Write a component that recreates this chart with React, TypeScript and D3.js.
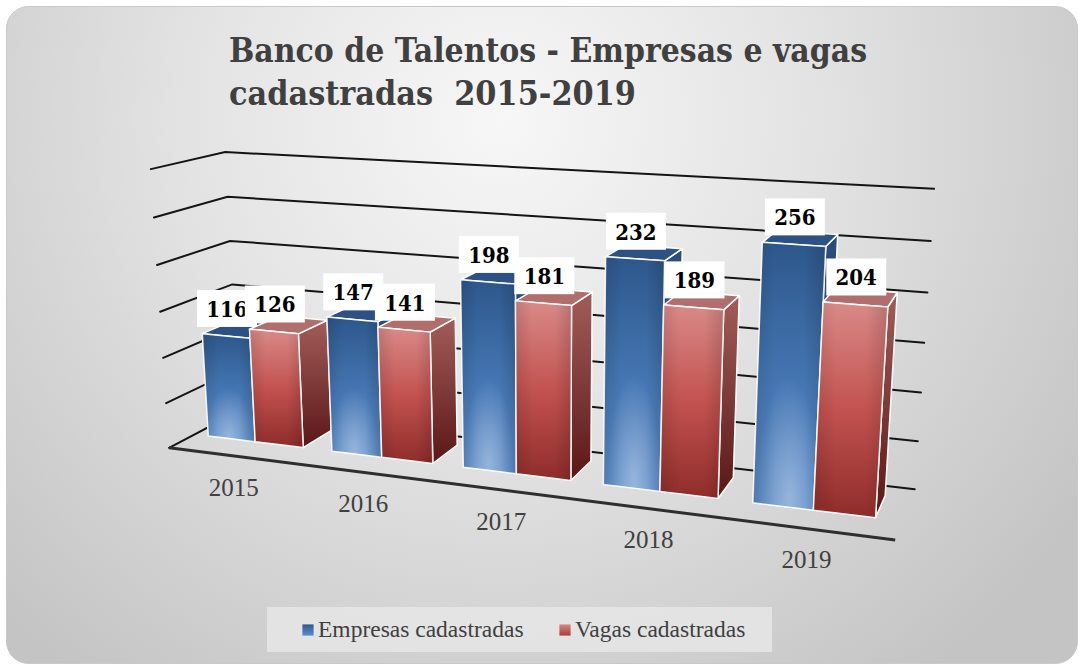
import React from 'react';
import * as d3 from 'd3';

const years = ['2015', '2016', '2017', '2018', '2019'];
const empresas = [116, 147, 198, 232, 256];
const vagas = [126, 141, 181, 189, 204];
const yTicks = [0, 50, 100, 150, 200, 250, 300];
const seriesNames = ['Empresas cadastradas', 'Vagas cadastradas'];

const width = 1079;
const height = 664;

// screen corners of the 3D plot box: [X, Y, Z, px, py], X/Y/Z normalised 0..1, Z=0 front
const frameAnchors: number[][] = [
  [0, 1, 0, 150, 169],
  [0, 0, 0, 170, 447],
  [0, 1, 1, 226, 152],
  [0, 0, 1, 238, 412],
  [1, 1, 1, 934, 189],
  [1, 0, 1, 915, 488],
  [1, 0, 0, 895, 541],
];

const BAR_Z0 = 0.35;
const BAR_Z1 = 0.8;

function solveLinear(M: number[][], b: number[]) {
  const n = b.length;
  const A = M.map((r, i) => [...r, b[i]]);
  for (let c = 0; c < n; c++) {
    let p = c;
    for (let r = c + 1; r < n; r++) if (Math.abs(A[r][c]) > Math.abs(A[p][c])) p = r;
    [A[c], A[p]] = [A[p], A[c]];
    for (let r = 0; r < n; r++) {
      if (r === c) continue;
      const f = A[r][c] / A[c][c];
      for (let k = c; k <= n; k++) A[r][k] -= f * A[c][k];
    }
  }
  return A.map((r, i) => r[n] / r[i]);
}

// least squares perspective camera (DLT) from the box corners
function fitCamera() {
  const rows: number[][] = [];
  const rhs: number[] = [];
  frameAnchors.forEach(([X, Y, Z, u, v]) => {
    rows.push([X, Y, Z, 1, 0, 0, 0, 0, -u * X, -u * Y, -u * Z]);
    rhs.push(u);
    rows.push([0, 0, 0, 0, X, Y, Z, 1, -v * X, -v * Y, -v * Z]);
    rhs.push(v);
  });
  const N = d3.range(11).map(i => d3.range(11).map(j => d3.sum(rows, r => r[i] * r[j])));
  const c = d3.range(11).map(i => d3.sum(rows, (r, k) => r[i] * rhs[k]));
  return solveLinear(N, c);
}

const cam = fitCamera();
const project = (X: number, Y: number, Z: number): [number, number] => {
  const w = cam[8] * X + cam[9] * Y + cam[10] * Z + 1;
  return [
    (cam[0] * X + cam[1] * Y + cam[2] * Z + cam[3]) / w,
    (cam[4] * X + cam[5] * Y + cam[6] * Z + cam[7]) / w,
  ];
};

const x = d3.scaleBand().domain(years).range([0, 0.99]).paddingInner(0.227).paddingOuter(0.1135);
const xs = d3.scaleBand().domain(['0', '1']).range([0, x.bandwidth()]);
const y = d3.scaleLinear().domain([0, 300]).range([0, 1]);

const line = d3.line();
const poly = (pts: [number, number, number][]) => line(pts.map(p => project(p[0], p[1], p[2]))) + 'Z';

const serif = "'Liberation Serif', 'Times New Roman', serif";
const boldSerif = "'DejaVu Serif Condensed', 'DejaVu Serif', serif";

export default function App() {
  const bars = years.flatMap((yr, i) =>
    [empresas[i], vagas[i]].map((v, s) => {
      const x0 = (x(yr) as number) + (xs(String(s)) as number);
      const x1 = x0 + xs.bandwidth();
      const yt = y(v);
      return { yr, s, v, x0, x1, yt };
    })
  );

  return (
    <svg width={width} height={height} style={{ position: 'absolute', left: 0, top: 0 }}>
      <defs>
        <radialGradient id="bg" gradientUnits="userSpaceOnUse" cx={500} cy={120} r={700}>
          <stop offset="0" stopColor="#f7f7f7" />
          <stop offset="0.45" stopColor="#e3e3e3" />
          <stop offset="1" stopColor="#c4c4c4" />
        </radialGradient>
        <linearGradient id="front0" x1="0" y1="0" x2="0" y2="1">
          <stop offset="0" stopColor="#2d578b" />
          <stop offset="0.55" stopColor="#4677b4" />
          <stop offset="1" stopColor="#5f8fcb" />
        </linearGradient>
        <linearGradient id="front1" x1="0" y1="0" x2="0" y2="1">
          <stop offset="0" stopColor="#d98a88" />
          <stop offset="0.5" stopColor="#c2524f" />
          <stop offset="1" stopColor="#8e2c2a" />
        </linearGradient>
        <radialGradient id="glow" cx="0.5" cy="0.95" r="0.45">
          <stop offset="0" stopColor="#ffffff" stopOpacity="0.35" />
          <stop offset="1" stopColor="#ffffff" stopOpacity="0" />
        </radialGradient>
        <linearGradient id="edge" x1="0" y1="0" x2="1" y2="0">
          <stop offset="0" stopColor="#000" stopOpacity="0.12" />
          <stop offset="0.3" stopColor="#000" stopOpacity="0" />
          <stop offset="0.7" stopColor="#000" stopOpacity="0" />
          <stop offset="1" stopColor="#000" stopOpacity="0.15" />
        </linearGradient>
        <linearGradient id="side0" x1="0" y1="0" x2="0" y2="1">
          <stop offset="0" stopColor="#2c4d7d" />
          <stop offset="1" stopColor="#1d3860" />
        </linearGradient>
        <linearGradient id="side1" x1="0" y1="0" x2="0" y2="1">
          <stop offset="0" stopColor="#a25d5b" />
          <stop offset="1" stopColor="#5a1715" />
        </linearGradient>
        <linearGradient id="leg0" x1="0" y1="0" x2="0" y2="1">
          <stop offset="0" stopColor="#2d578b" />
          <stop offset="1" stopColor="#5f8fcb" />
        </linearGradient>
        <linearGradient id="leg1" x1="0" y1="0" x2="0" y2="1">
          <stop offset="0" stopColor="#d98a88" />
          <stop offset="1" stopColor="#a83a38" />
        </linearGradient>
      </defs>

      <rect x={6.5} y={6.5} width={1071} height={657} rx={22} fill="url(#bg)" stroke="#c9c9c9" strokeWidth={1} />

      <text fontFamily={boldSerif} fontWeight="bold" fontStretch="condensed" fontSize={33} fill="#404040" style={{ whiteSpace: 'pre' }}>
        <tspan x={229} y={62} textLength={638} lengthAdjust="spacingAndGlyphs">Banco de Talentos - Empresas e vagas</tspan>
        <tspan x={229} y={105} textLength={407} lengthAdjust="spacingAndGlyphs">cadastradas  2015-2019</tspan>
      </text>

      {/* walls and floor gridlines */}
      <g stroke="#141414" strokeWidth={2} fill="none" strokeLinecap="round">
        {yTicks.map(t => (
          <path key={t} d={line([project(0, y(t), 0), project(0, y(t), 1), project(1, y(t), 1)]) as string} />
        ))}
      </g>
      <path d={line([project(0, 0, 0), project(1, 0, 0)]) as string} stroke="#2e2e2e" strokeWidth={3} />

      {/* bars, far (left) first */}
      {bars.map(b => {
        const { x0, x1, yt, s } = b;
        const front = poly([[x0, 0, BAR_Z0], [x1, 0, BAR_Z0], [x1, yt, BAR_Z0], [x0, yt, BAR_Z0]]);
        const top = poly([[x0, yt, BAR_Z0], [x1, yt, BAR_Z0], [x1, yt, BAR_Z1], [x0, yt, BAR_Z1]]);
        const side = poly([[x1, 0, BAR_Z0], [x1, 0, BAR_Z1], [x1, yt, BAR_Z1], [x1, yt, BAR_Z0]]);
        return (
          <g key={b.yr + s} stroke="#ffffff" strokeWidth={1.5} strokeLinejoin="round">
            <path d={side} fill={`url(#side${s})`} />
            <path d={top} fill={s === 0 ? '#2e5183' : '#b06e6c'} />
            <path d={front} fill={`url(#front${s})`} />
            {s === 0 && <path d={front} fill="url(#glow)" stroke="none" />}
            <path d={front} fill="url(#edge)" stroke="none" />
          </g>
        );
      })}

      {/* data labels */}
      {bars.map(b => {
        const [px, py] = project((b.x0 + b.x1) / 2, b.yt, BAR_Z0);
        const bottom = py - 9;
        return (
          <g key={'l' + b.yr + b.s}>
            <rect x={px + 1 - 30} y={bottom - 37} width={60} height={37} fill="#ffffff" />
            <text x={px + 1} y={bottom - 10} textAnchor="middle" fontFamily={boldSerif} fontStretch="condensed"
              fontWeight="bold" fontSize={22} fill="#000000">{b.v}</text>
          </g>
        );
      })}

      {/* category labels */}
      {years.map(yr => {
        const [px, py] = project((x(yr) as number) + x.bandwidth() / 2, 0, 0);
        return (
          <text key={yr} x={px + 3} y={py + 40} textAnchor="middle" fontFamily={serif} fontSize={25} fill="#404040">{yr}</text>
        );
      })}

      {/* legend */}
      <rect x={267} y={607} width={505} height={45} fill="#e6e6e6" opacity={0.85} />
      <rect x={302} y={624} width={12} height={12} fill="url(#leg0)" stroke="#dfe6f0" strokeWidth={0.8} />
      <text x={318} y={637} fontFamily={serif} fontSize={23.5} fill="#404040">{seriesNames[0]}</text>
      <rect x={559} y={624} width={12} height={12} fill="url(#leg1)" stroke="#f0dede" strokeWidth={0.8} />
      <text x={575} y={637} fontFamily={serif} fontSize={23.5} fill="#404040">{seriesNames[1]}</text>
    </svg>
  );
}
